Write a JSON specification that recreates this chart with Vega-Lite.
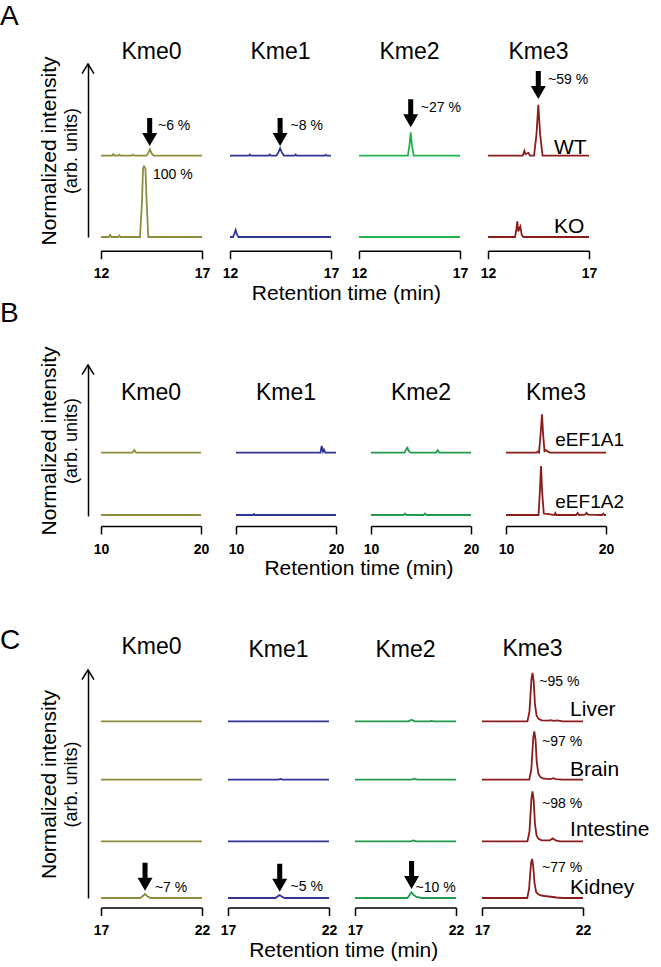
{
"$schema":"https://vega.github.io/schema/vega-lite/v6.json",
"background":"white",
"padding":{"left":0,"top":2,"right":0,"bottom":0},
"config":{
 "font":"Liberation Sans",
 "view":{"stroke":null},
 "axisX":{"domainColor":"black","domainWidth":1.5,"tickColor":"black","tickWidth":1.5,"tickSize":8,"labelFontWeight":"bold","labelFontSize":14,"labelColor":"black","labelFlush":false,"labelOverlap":false,"labelPadding":8,"grid":false},
 "title":{"fontSize":23,"fontWeight":"normal","color":"black","baseline":"alphabetic"},
 "line":{"strokeWidth":1.8}
},
"datasets":{
 "notes":[
  {"id":"A0WT","k":"a","t":14.41,"v":0.137},
  {"id":"A0WT","k":"p","t":14.82,"v":0.42,"lab":"~6 %"},
  {"id":"A0KO","k":"p","t":14.57,"v":0.88,"lab":"100 %"},
  {"id":"A1WT","k":"a","t":14.48,"v":0.137},
  {"id":"A1WT","k":"p","t":15.0,"v":0.42,"lab":"~8 %"},
  {"id":"A2WT","k":"a","t":14.56,"v":0.402},
  {"id":"A2WT","k":"p","t":15.06,"v":0.676,"lab":"~27 %"},
  {"id":"A3WT","k":"a","t":14.49,"v":0.803},
  {"id":"A3WT","k":"p","t":14.97,"v":1.072,"lab":"~59 %"},
  {"id":"A3WT","k":"n","t":15.27,"v":0.024,"lab":"WT"},
  {"id":"A3KO","k":"n","t":15.27,"v":0.06,"lab":"KO"},
  {"id":"B3a1","k":"n","t":14.93,"v":0.135,"lab":"eEF1A1"},
  {"id":"B3a2","k":"n","t":14.93,"v":0.15,"lab":"eEF1A2"},
  {"id":"C0Ki","k":"a","t":19.18,"v":0.146},
  {"id":"C0Ki","k":"p","t":19.67,"v":0.2,"lab":"~7 %"},
  {"id":"C1Ki","k":"a","t":19.56,"v":0.126},
  {"id":"C1Ki","k":"p","t":20.1,"v":0.214,"lab":"~5 %"},
  {"id":"C2Ki","k":"a","t":19.8,"v":0.18},
  {"id":"C2Ki","k":"p","t":20.0,"v":0.2,"lab":"~10 %"},
  {"id":"C3Li","k":"p","t":19.84,"v":0.784,"lab":"~95 %"},
  {"id":"C3Li","k":"n","t":21.36,"v":0.1,"lab":"Liver"},
  {"id":"C3Br","k":"p","t":19.97,"v":0.75,"lab":"~97 %"},
  {"id":"C3Br","k":"n","t":21.36,"v":0.066,"lab":"Brain"},
  {"id":"C3In","k":"p","t":19.97,"v":0.754,"lab":"~98 %"},
  {"id":"C3In","k":"n","t":21.36,"v":0.1,"lab":"Intestine"},
  {"id":"C3Ki","k":"p","t":19.97,"v":0.6,"lab":"~77 %"},
  {"id":"C3Ki","k":"n","t":21.36,"v":0.08,"lab":"Kidney"}
 ],
 "A0WT":[{"t":12,"v":0},{"t":12.55,"v":0},{"t":12.61,"v":0.02},{"t":12.67,"v":0},{"t":12.85,"v":0},{"t":12.91,"v":0.015},{"t":12.97,"v":0},{"t":13.5,"v":0},{"t":13.57,"v":0.012},{"t":13.64,"v":0},{"t":14.26,"v":0},{"t":14.34,"v":0.04},{"t":14.42,"v":0.088},{"t":14.5,"v":0.035},{"t":14.6,"v":0},{"t":17,"v":0}],
 "A0KO":[{"t":12,"v":0},{"t":12.38,"v":0},{"t":12.45,"v":0.03},{"t":12.52,"v":0},{"t":12.85,"v":0},{"t":12.91,"v":0.02},{"t":12.97,"v":0},{"t":13.93,"v":0},{"t":14.03,"v":0.5},{"t":14.08,"v":0.97},{"t":14.13,"v":1.0},{"t":14.2,"v":0.97},{"t":14.26,"v":0.5},{"t":14.34,"v":0},{"t":17,"v":0}],
 "A1WT":[{"t":12,"v":0},{"t":12.93,"v":0},{"t":12.98,"v":0.015},{"t":13.03,"v":0},{"t":13.91,"v":0},{"t":13.96,"v":0.015},{"t":14.01,"v":0},{"t":14.3,"v":0},{"t":14.4,"v":0.05},{"t":14.48,"v":0.105},{"t":14.56,"v":0.05},{"t":14.67,"v":0},{"t":15.2,"v":0},{"t":15.25,"v":0.015},{"t":15.3,"v":0},{"t":16.69,"v":0},{"t":16.74,"v":0.012},{"t":16.79,"v":0},{"t":17,"v":0}],
 "A1KO":[{"t":12,"v":0},{"t":12.15,"v":0},{"t":12.22,"v":0.05},{"t":12.28,"v":0.1},{"t":12.34,"v":0.04},{"t":12.42,"v":0},{"t":17,"v":0}],
 "A2WT":[{"t":12,"v":0},{"t":14.42,"v":0},{"t":14.5,"v":0.15},{"t":14.56,"v":0.33},{"t":14.62,"v":0.15},{"t":14.71,"v":0},{"t":17,"v":0}],
 "A2KO":[{"t":12,"v":0},{"t":17,"v":0}],
 "A3WT":[{"t":12,"v":0},{"t":13.72,"v":0},{"t":13.8,"v":0.07},{"t":13.86,"v":0.02},{"t":13.92,"v":0.03},{"t":14.0,"v":0.04},{"t":14.08,"v":0},{"t":14.28,"v":0},{"t":14.4,"v":0.3},{"t":14.49,"v":0.72},{"t":14.58,"v":0.3},{"t":14.7,"v":0},{"t":17,"v":0}],
 "A3KO":[{"t":12,"v":0},{"t":13.34,"v":0},{"t":13.41,"v":0.12},{"t":13.45,"v":0.22},{"t":13.5,"v":0.08},{"t":13.55,"v":0.12},{"t":13.6,"v":0.15},{"t":13.67,"v":0.03},{"t":13.75,"v":0},{"t":17,"v":0}],
 "B0a1":[{"t":10,"v":0},{"t":13.15,"v":0},{"t":13.33,"v":0.053},{"t":13.5,"v":0},{"t":20,"v":0}],
 "B0a2":[{"t":10,"v":0},{"t":20,"v":0}],
 "B1a1":[{"t":10,"v":0},{"t":18.45,"v":0},{"t":18.57,"v":0.135},{"t":18.7,"v":0.02},{"t":18.8,"v":0.06},{"t":18.92,"v":0},{"t":20,"v":0}],
 "B1a2":[{"t":10,"v":0},{"t":11.7,"v":0},{"t":11.8,"v":0.02},{"t":11.9,"v":0},{"t":20,"v":0}],
 "B2a1":[{"t":10,"v":0},{"t":13.35,"v":0},{"t":13.55,"v":0.08},{"t":13.64,"v":0.1},{"t":13.75,"v":0.04},{"t":13.95,"v":0},{"t":16.5,"v":0},{"t":16.67,"v":0.047},{"t":16.82,"v":0},{"t":20,"v":0}],
 "B2a2":[{"t":10,"v":0},{"t":13.25,"v":0},{"t":13.4,"v":0.03},{"t":13.55,"v":0},{"t":15.25,"v":0},{"t":15.4,"v":0.03},{"t":15.55,"v":0},{"t":20,"v":0}],
 "B3a1":[{"t":10,"v":0},{"t":13.05,"v":0},{"t":13.16,"v":0.02},{"t":13.3,"v":0},{"t":13.45,"v":0.35},{"t":13.6,"v":0.78},{"t":13.72,"v":0.35},{"t":13.85,"v":0.03},{"t":14.0,"v":0.05},{"t":14.2,"v":0.02},{"t":14.4,"v":0},{"t":20,"v":0}],
 "B3a2":[{"t":10,"v":0},{"t":13.25,"v":0},{"t":13.38,"v":0.45},{"t":13.5,"v":1.0},{"t":13.62,"v":0.45},{"t":13.78,"v":0.03},{"t":14.3,"v":0.02},{"t":14.85,"v":0},{"t":14.93,"v":0.04},{"t":15.05,"v":0},{"t":17.0,"v":0},{"t":17.16,"v":0.04},{"t":17.3,"v":0},{"t":17.9,"v":0.01},{"t":18.06,"v":0.045},{"t":18.2,"v":0.01},{"t":19.6,"v":0},{"t":19.73,"v":0.03},{"t":19.85,"v":0},{"t":20,"v":0}],
 "C0Li":[{"t":17,"v":0},{"t":22,"v":0}],
 "C0Br":[{"t":17,"v":0},{"t":22,"v":0}],
 "C0In":[{"t":17,"v":0},{"t":22,"v":0}],
 "C0Ki":[{"t":17,"v":0},{"t":18.95,"v":0},{"t":19.1,"v":0.05},{"t":19.18,"v":0.08},{"t":19.28,"v":0.04},{"t":19.45,"v":0},{"t":22,"v":0}],
 "C1Li":[{"t":17,"v":0},{"t":22,"v":0}],
 "C1Br":[{"t":17,"v":0},{"t":19.5,"v":0},{"t":19.6,"v":0.015},{"t":19.7,"v":0},{"t":22,"v":0}],
 "C1In":[{"t":17,"v":0},{"t":22,"v":0}],
 "C1Ki":[{"t":17,"v":0},{"t":19.35,"v":0},{"t":19.48,"v":0.04},{"t":19.56,"v":0.06},{"t":19.65,"v":0.03},{"t":19.8,"v":0},{"t":22,"v":0}],
 "C2Li":[{"t":17,"v":0},{"t":19.65,"v":0},{"t":19.8,"v":0.034},{"t":19.95,"v":0},{"t":20.7,"v":0},{"t":20.79,"v":0.01},{"t":20.88,"v":0},{"t":22,"v":0}],
 "C2Br":[{"t":17,"v":0},{"t":19.8,"v":0},{"t":19.94,"v":0.02},{"t":20.08,"v":0},{"t":22,"v":0}],
 "C2In":[{"t":17,"v":0},{"t":19.75,"v":0},{"t":19.89,"v":0.02},{"t":20.03,"v":0},{"t":22,"v":0}],
 "C2Ki":[{"t":17,"v":0},{"t":19.6,"v":0},{"t":19.72,"v":0.07},{"t":19.8,"v":0.114},{"t":19.9,"v":0.06},{"t":20.05,"v":0.02},{"t":20.3,"v":0},{"t":22,"v":0}],
 "C3Li":[{"t":17,"v":0},{"t":19.25,"v":0},{"t":19.35,"v":0.2},{"t":19.45,"v":0.85},{"t":19.5,"v":0.968},{"t":19.56,"v":0.8},{"t":19.62,"v":0.35},{"t":19.7,"v":0.12},{"t":19.8,"v":0.05},{"t":19.95,"v":0.02},{"t":20.3,"v":0.015},{"t":20.4,"v":0.025},{"t":20.55,"v":0.01},{"t":20.7,"v":0.02},{"t":20.85,"v":0.01},{"t":21,"v":0},{"t":22,"v":0}],
 "C3Br":[{"t":17,"v":0},{"t":19.34,"v":0},{"t":19.44,"v":0.2},{"t":19.54,"v":0.85},{"t":19.59,"v":0.966},{"t":19.65,"v":0.8},{"t":19.71,"v":0.35},{"t":19.79,"v":0.12},{"t":19.9,"v":0.05},{"t":20.05,"v":0.02},{"t":20.4,"v":0.01},{"t":20.53,"v":0.03},{"t":20.65,"v":0.01},{"t":21,"v":0},{"t":22,"v":0}],
 "C3In":[{"t":17,"v":0},{"t":19.25,"v":0},{"t":19.35,"v":0.2},{"t":19.45,"v":0.87},{"t":19.5,"v":1.0},{"t":19.56,"v":0.82},{"t":19.62,"v":0.36},{"t":19.7,"v":0.12},{"t":19.8,"v":0.05},{"t":19.95,"v":0.02},{"t":20.35,"v":0.02},{"t":20.5,"v":0.06},{"t":20.65,"v":0.02},{"t":20.85,"v":0},{"t":22,"v":0}],
 "C3Ki":[{"t":17,"v":0},{"t":19.24,"v":0},{"t":19.33,"v":0.18},{"t":19.43,"v":0.7},{"t":19.48,"v":0.78},{"t":19.54,"v":0.62},{"t":19.6,"v":0.3},{"t":19.68,"v":0.12},{"t":19.8,"v":0.07},{"t":19.95,"v":0.05},{"t":20.1,"v":0.04},{"t":20.3,"v":0.03},{"t":20.5,"v":0.02},{"t":20.7,"v":0.01},{"t":21,"v":0},{"t":22,"v":0}]
},
"spacing":48,
"align":"none",
"vconcat":[
{"spacing":-5,"align":"none","vconcat":[
{"title":{"text":"A","anchor":"start","fontSize":28,"offset":10,"dx":-38},
 "vconcat":[{"spacing":28,"bounds":"flush",
  "title":{"text":"Retention time (min)","orient":"bottom","anchor":"middle","fontSize":21,"baseline":"top","offset":2,"dx":29},
  "hconcat":[
  {"width":101,"height":173,"title":{"text":"Kme0","offset":-8.5},
   "encoding":{"x":{"field":"t","type":"quantitative","scale":{"domain":[12,17],"nice":false},"title":null,"axis":{"values":[12,17],"offset":13.7}}},
   "resolve":{"scale":{"y":"independent"}},
   "layer":[
    {"encoding":{"y":{"field":"v","type":"quantitative","scale":{"domain":[-1.152,1.298],"nice":false,"zero":false},"axis":null}},
     "layer":[
      {"data":{"name":"A0WT"},"mark":{"type":"line","color":"#8d8d3d"}},
      {"data":{"name":"notes"},"transform":[{"filter":"datum.id=='A0WT'&&datum.k=='a'"}],"mark":{"type":"point","shape":"M-0.36,-4L0.36,-4L0.36,-1.86L1.07,-1.86L0,0L-1.07,-1.86L-0.36,-1.86Z","size":196,"filled":true,"color":"black","opacity":1,"strokeWidth":0}},
      {"data":{"name":"notes"},"transform":[{"filter":"datum.id=='A0WT'&&datum.k=='p'"}],"mark":{"type":"text","align":"left","baseline":"middle","fontSize":14,"color":"black"},"encoding":{"text":{"field":"lab"}}}
     ]},
    {"encoding":{"y":{"field":"v","type":"quantitative","scale":{"domain":[0,2.45],"nice":false,"zero":false},"axis":null}},
     "layer":[
      {"data":{"name":"A0KO"},"mark":{"type":"line","color":"#8d8d3d"}},
      {"data":{"name":"notes"},"transform":[{"filter":"datum.id=='A0KO'&&datum.k=='p'"}],"mark":{"type":"text","align":"left","baseline":"middle","fontSize":14,"color":"black"},"encoding":{"text":{"field":"lab"}}}
     ]},
    {"data":{"values":[{"t":12,"v":1}]},"mark":{"type":"point","shape":"M-1,1.6L0,0L1,1.6","filled":false,"color":"black","strokeWidth":1.5,"size":144,"xOffset":-13,"opacity":1},
     "encoding":{"y":{"field":"v","type":"quantitative","scale":{"domain":[0,1],"nice":false},"title":"(arb. units)","axis":{"orient":"left","offset":13,"domain":true,"domainColor":"black","domainWidth":1.5,"ticks":false,"labels":false,"grid":false,"titleFontSize":18,"titleFontWeight":"normal","titleColor":"black","titlePadding":8}}}},
    {"data":{"values":[{"t":12,"v":1}]},"mark":{"type":"point","opacity":0},
     "encoding":{"y":{"field":"v","type":"quantitative","scale":{"domain":[0,1],"nice":false},"title":"Normalized intensity","axis":{"orient":"left","offset":13,"domain":false,"ticks":false,"labels":false,"grid":false,"titleFontSize":21,"titleFontWeight":"normal","titleColor":"black","titlePadding":29}}}}
   ]},
  {"width":101,"height":173,"title":{"text":"Kme1","offset":0.5},
   "encoding":{"x":{"field":"t","type":"quantitative","scale":{"domain":[12,17],"nice":false},"title":null,"axis":{"values":[12,17],"offset":13.7}}},
   "resolve":{"scale":{"y":"independent"}},
   "layer":[
    {"encoding":{"y":{"field":"v","type":"quantitative","scale":{"domain":[-1.152,1.298],"nice":false,"zero":false},"axis":null}},
     "layer":[
      {"data":{"name":"A1WT"},"mark":{"type":"line","color":"#2f3590"}},
      {"data":{"name":"notes"},"transform":[{"filter":"datum.id=='A1WT'&&datum.k=='a'"}],"mark":{"type":"point","shape":"M-0.36,-4L0.36,-4L0.36,-1.86L1.07,-1.86L0,0L-1.07,-1.86L-0.36,-1.86Z","size":196,"filled":true,"color":"black","opacity":1,"strokeWidth":0}},
      {"data":{"name":"notes"},"transform":[{"filter":"datum.id=='A1WT'&&datum.k=='p'"}],"mark":{"type":"text","align":"left","baseline":"middle","fontSize":14,"color":"black"},"encoding":{"text":{"field":"lab"}}}
     ]},
    {"encoding":{"y":{"field":"v","type":"quantitative","scale":{"domain":[0,2.45],"nice":false,"zero":false},"axis":null}},
     "layer":[
      {"data":{"name":"A1KO"},"mark":{"type":"line","color":"#2f3590"}}
     ]}
   ]},
  {"width":101,"height":173,"title":{"text":"Kme2","offset":0.5},
   "encoding":{"x":{"field":"t","type":"quantitative","scale":{"domain":[12,17],"nice":false},"title":null,"axis":{"values":[12,17],"offset":13.7}}},
   "resolve":{"scale":{"y":"independent"}},
   "layer":[
    {"encoding":{"y":{"field":"v","type":"quantitative","scale":{"domain":[-1.152,1.298],"nice":false,"zero":false},"axis":null}},
     "layer":[
      {"data":{"name":"A2WT"},"mark":{"type":"line","color":"#22b24c"}},
      {"data":{"name":"notes"},"transform":[{"filter":"datum.id=='A2WT'&&datum.k=='a'"}],"mark":{"type":"point","shape":"M-0.36,-4L0.36,-4L0.36,-1.86L1.07,-1.86L0,0L-1.07,-1.86L-0.36,-1.86Z","size":196,"filled":true,"color":"black","opacity":1,"strokeWidth":0}},
      {"data":{"name":"notes"},"transform":[{"filter":"datum.id=='A2WT'&&datum.k=='p'"}],"mark":{"type":"text","align":"left","baseline":"middle","fontSize":14,"color":"black"},"encoding":{"text":{"field":"lab"}}}
     ]},
    {"encoding":{"y":{"field":"v","type":"quantitative","scale":{"domain":[0,2.45],"nice":false,"zero":false},"axis":null}},
     "layer":[
      {"data":{"name":"A2KO"},"mark":{"type":"line","color":"#22b24c"}}
     ]}
   ]},
  {"width":101,"height":173,"title":{"text":"Kme3","offset":0.5},
   "encoding":{"x":{"field":"t","type":"quantitative","scale":{"domain":[12,17],"nice":false},"title":null,"axis":{"values":[12,17],"offset":13.7}}},
   "resolve":{"scale":{"y":"independent"}},
   "layer":[
    {"encoding":{"y":{"field":"v","type":"quantitative","scale":{"domain":[-1.152,1.298],"nice":false,"zero":false},"axis":null}},
     "layer":[
      {"data":{"name":"A3WT"},"mark":{"type":"line","color":"#8b1c1c"}},
      {"data":{"name":"notes"},"transform":[{"filter":"datum.id=='A3WT'&&datum.k=='a'"}],"mark":{"type":"point","shape":"M-0.36,-4L0.36,-4L0.36,-1.86L1.07,-1.86L0,0L-1.07,-1.86L-0.36,-1.86Z","size":196,"filled":true,"color":"black","opacity":1,"strokeWidth":0}},
      {"data":{"name":"notes"},"transform":[{"filter":"datum.id=='A3WT'&&datum.k=='p'"}],"mark":{"type":"text","align":"left","baseline":"middle","fontSize":14,"color":"black"},"encoding":{"text":{"field":"lab"}}},
      {"data":{"name":"notes"},"transform":[{"filter":"datum.id=='A3WT'&&datum.k=='n'"}],"mark":{"type":"text","align":"left","baseline":"alphabetic","fontSize":21,"color":"black"},"encoding":{"text":{"field":"lab"}}}
     ]},
    {"encoding":{"y":{"field":"v","type":"quantitative","scale":{"domain":[0,2.45],"nice":false,"zero":false},"axis":null}},
     "layer":[
      {"data":{"name":"A3KO"},"mark":{"type":"line","color":"#8b1c1c"}},
      {"data":{"name":"notes"},"transform":[{"filter":"datum.id=='A3KO'&&datum.k=='n'"}],"mark":{"type":"text","align":"left","baseline":"alphabetic","fontSize":21,"color":"black"},"encoding":{"text":{"field":"lab"}}}
     ]}
   ]}
  ]}]},
{"title":{"text":"B","anchor":"start","fontSize":28,"offset":18,"dx":-38},
 "vconcat":[{"spacing":35,"bounds":"flush",
  "title":{"text":"Retention time (min)","orient":"bottom","anchor":"middle","fontSize":21,"baseline":"top","offset":2,"dx":28},
  "hconcat":[
  {"width":100,"height":151,"title":{"text":"Kme0","offset":-59},
   "encoding":{"x":{"field":"t","type":"quantitative","scale":{"domain":[10,20],"nice":false},"title":null,"axis":{"values":[10,20],"offset":10}}},
   "resolve":{"scale":{"y":"independent"}},
   "layer":[
    {"encoding":{"y":{"field":"v","type":"quantitative","scale":{"domain":[-1.294,1.788],"nice":false,"zero":false},"axis":null}},
     "layer":[{"data":{"name":"B0a1"},"mark":{"type":"line","color":"#8d8d3d"}}]},
    {"encoding":{"y":{"field":"v","type":"quantitative","scale":{"domain":[-0.02,3.06],"nice":false,"zero":false},"axis":null}},
     "layer":[{"data":{"name":"B0a2"},"mark":{"type":"line","color":"#8d8d3d"}}]},
    {"data":{"values":[{"t":10,"v":1}]},"mark":{"type":"point","shape":"M-1,1.6L0,0L1,1.6","filled":false,"color":"black","strokeWidth":1.5,"size":144,"xOffset":-13,"opacity":1},
     "encoding":{"y":{"field":"v","type":"quantitative","scale":{"domain":[0,1],"nice":false},"title":"(arb. units)","axis":{"orient":"left","offset":13,"domain":true,"domainColor":"black","domainWidth":1.5,"ticks":false,"labels":false,"grid":false,"titleFontSize":18,"titleFontWeight":"normal","titleColor":"black","titlePadding":8}}}},
    {"data":{"values":[{"t":10,"v":1}]},"mark":{"type":"point","opacity":0},
     "encoding":{"y":{"field":"v","type":"quantitative","scale":{"domain":[0,1],"nice":false},"title":"Normalized intensity","axis":{"orient":"left","offset":13,"domain":false,"ticks":false,"labels":false,"grid":false,"titleFontSize":21,"titleFontWeight":"normal","titleColor":"black","titlePadding":29}}}}
   ]},
  {"width":100,"height":151,"title":{"text":"Kme1","offset":-39.5},
   "encoding":{"x":{"field":"t","type":"quantitative","scale":{"domain":[10,20],"nice":false},"title":null,"axis":{"values":[10,20],"offset":10}}},
   "resolve":{"scale":{"y":"independent"}},
   "layer":[
    {"encoding":{"y":{"field":"v","type":"quantitative","scale":{"domain":[-1.294,1.788],"nice":false,"zero":false},"axis":null}},
     "layer":[{"data":{"name":"B1a1"},"mark":{"type":"line","color":"#2f3590"}}]},
    {"encoding":{"y":{"field":"v","type":"quantitative","scale":{"domain":[-0.02,3.06],"nice":false,"zero":false},"axis":null}},
     "layer":[{"data":{"name":"B1a2"},"mark":{"type":"line","color":"#2f3590"}}]}
   ]},
  {"width":100,"height":151,"title":{"text":"Kme2","offset":-39.5},
   "encoding":{"x":{"field":"t","type":"quantitative","scale":{"domain":[10,20],"nice":false},"title":null,"axis":{"values":[10,20],"offset":10}}},
   "resolve":{"scale":{"y":"independent"}},
   "layer":[
    {"encoding":{"y":{"field":"v","type":"quantitative","scale":{"domain":[-1.294,1.788],"nice":false,"zero":false},"axis":null}},
     "layer":[{"data":{"name":"B2a1"},"mark":{"type":"line","color":"#229a4e"}}]},
    {"encoding":{"y":{"field":"v","type":"quantitative","scale":{"domain":[-0.02,3.06],"nice":false,"zero":false},"axis":null}},
     "layer":[{"data":{"name":"B2a2"},"mark":{"type":"line","color":"#229a4e"}}]}
   ]},
  {"width":100,"height":151,"title":{"text":"Kme3","offset":-39.5},
   "encoding":{"x":{"field":"t","type":"quantitative","scale":{"domain":[10,20],"nice":false},"title":null,"axis":{"values":[10,20],"offset":10}}},
   "resolve":{"scale":{"y":"independent"}},
   "layer":[
    {"encoding":{"y":{"field":"v","type":"quantitative","scale":{"domain":[-1.294,1.788],"nice":false,"zero":false},"axis":null}},
     "layer":[
      {"data":{"name":"B3a1"},"mark":{"type":"line","color":"#8b1c1c"}},
      {"data":{"name":"notes"},"transform":[{"filter":"datum.id=='B3a1'&&datum.k=='n'"}],"mark":{"type":"text","align":"left","baseline":"alphabetic","fontSize":19,"color":"black"},"encoding":{"text":{"field":"lab"}}}
     ]},
    {"encoding":{"y":{"field":"v","type":"quantitative","scale":{"domain":[-0.02,3.06],"nice":false,"zero":false},"axis":null}},
     "layer":[
      {"data":{"name":"B3a2"},"mark":{"type":"line","color":"#8b1c1c"}},
      {"data":{"name":"notes"},"transform":[{"filter":"datum.id=='B3a2'&&datum.k=='n'"}],"mark":{"type":"text","align":"left","baseline":"alphabetic","fontSize":19,"color":"black"},"encoding":{"text":{"field":"lab"}}}
     ]}
   ]}
  ]}]}
]},
{"title":{"text":"C","anchor":"start","fontSize":28,"offset":-19.5,"dx":-38},
 "vconcat":[{"spacing":26,"bounds":"flush",
  "title":{"text":"Retention time (min)","orient":"bottom","anchor":"middle","fontSize":21,"baseline":"top","offset":2,"dx":0},
  "hconcat":[
  {"width":101,"height":228,"title":{"text":"Kme0","offset":8.2},
   "encoding":{"x":{"field":"t","type":"quantitative","scale":{"domain":[17,22],"nice":false},"title":null,"axis":{"values":[17,22],"offset":9.5}}},
   "resolve":{"scale":{"y":"independent"}},
   "layer":[
    {"encoding":{"y":{"field":"v","type":"quantitative","scale":{"domain":[-3.532,1.028],"nice":false,"zero":false},"axis":null}},
     "layer":[{"data":{"name":"C0Li"},"mark":{"type":"line","color":"#8d8d3d"}}]},
    {"encoding":{"y":{"field":"v","type":"quantitative","scale":{"domain":[-2.366,2.194],"nice":false,"zero":false},"axis":null}},
     "layer":[{"data":{"name":"C0Br"},"mark":{"type":"line","color":"#8d8d3d"}}]},
    {"encoding":{"y":{"field":"v","type":"quantitative","scale":{"domain":[-1.132,3.428],"nice":false,"zero":false},"axis":null}},
     "layer":[{"data":{"name":"C0In"},"mark":{"type":"line","color":"#8d8d3d"}}]},
    {"encoding":{"y":{"field":"v","type":"quantitative","scale":{"domain":[0,4.56],"nice":false,"zero":false},"axis":null}},
     "layer":[
      {"data":{"name":"C0Ki"},"mark":{"type":"line","color":"#8d8d3d"}},
      {"data":{"name":"notes"},"transform":[{"filter":"datum.id=='C0Ki'&&datum.k=='a'"}],"mark":{"type":"point","shape":"M-0.36,-4L0.36,-4L0.36,-1.86L1.07,-1.86L0,0L-1.07,-1.86L-0.36,-1.86Z","size":196,"filled":true,"color":"black","opacity":1,"strokeWidth":0}},
      {"data":{"name":"notes"},"transform":[{"filter":"datum.id=='C0Ki'&&datum.k=='p'"}],"mark":{"type":"text","align":"left","baseline":"middle","fontSize":14,"color":"black"},"encoding":{"text":{"field":"lab"}}}
     ]},
    {"data":{"values":[{"t":17,"v":1}]},"mark":{"type":"point","shape":"M-1,1.6L0,0L1,1.6","filled":false,"color":"black","strokeWidth":1.5,"size":144,"xOffset":-13,"opacity":1},
     "encoding":{"y":{"field":"v","type":"quantitative","scale":{"domain":[0,1],"nice":false},"title":"(arb. units)","axis":{"orient":"left","offset":13,"domain":true,"domainColor":"black","domainWidth":1.5,"ticks":false,"labels":false,"grid":false,"titleFontSize":18,"titleFontWeight":"normal","titleColor":"black","titlePadding":8}}}},
    {"data":{"values":[{"t":17,"v":1}]},"mark":{"type":"point","opacity":0},
     "encoding":{"y":{"field":"v","type":"quantitative","scale":{"domain":[0,1],"nice":false},"title":"Normalized intensity","axis":{"orient":"left","offset":13,"domain":false,"ticks":false,"labels":false,"grid":false,"titleFontSize":21,"titleFontWeight":"normal","titleColor":"black","titlePadding":29}}}}
   ]},
  {"width":101,"height":228,"title":{"text":"Kme1","offset":8.2},
   "encoding":{"x":{"field":"t","type":"quantitative","scale":{"domain":[17,22],"nice":false},"title":null,"axis":{"values":[17,22],"offset":9.5}}},
   "resolve":{"scale":{"y":"independent"}},
   "layer":[
    {"encoding":{"y":{"field":"v","type":"quantitative","scale":{"domain":[-3.532,1.028],"nice":false,"zero":false},"axis":null}},
     "layer":[{"data":{"name":"C1Li"},"mark":{"type":"line","color":"#2f3590"}}]},
    {"encoding":{"y":{"field":"v","type":"quantitative","scale":{"domain":[-2.366,2.194],"nice":false,"zero":false},"axis":null}},
     "layer":[{"data":{"name":"C1Br"},"mark":{"type":"line","color":"#2f3590"}}]},
    {"encoding":{"y":{"field":"v","type":"quantitative","scale":{"domain":[-1.132,3.428],"nice":false,"zero":false},"axis":null}},
     "layer":[{"data":{"name":"C1In"},"mark":{"type":"line","color":"#2f3590"}}]},
    {"encoding":{"y":{"field":"v","type":"quantitative","scale":{"domain":[0,4.56],"nice":false,"zero":false},"axis":null}},
     "layer":[
      {"data":{"name":"C1Ki"},"mark":{"type":"line","color":"#2f3590"}},
      {"data":{"name":"notes"},"transform":[{"filter":"datum.id=='C1Ki'&&datum.k=='a'"}],"mark":{"type":"point","shape":"M-0.36,-4L0.36,-4L0.36,-1.86L1.07,-1.86L0,0L-1.07,-1.86L-0.36,-1.86Z","size":196,"filled":true,"color":"black","opacity":1,"strokeWidth":0}},
      {"data":{"name":"notes"},"transform":[{"filter":"datum.id=='C1Ki'&&datum.k=='p'"}],"mark":{"type":"text","align":"left","baseline":"middle","fontSize":14,"color":"black"},"encoding":{"text":{"field":"lab"}}}
     ]}
   ]},
  {"width":101,"height":228,"title":{"text":"Kme2","offset":8.2},
   "encoding":{"x":{"field":"t","type":"quantitative","scale":{"domain":[17,22],"nice":false},"title":null,"axis":{"values":[17,22],"offset":9.5}}},
   "resolve":{"scale":{"y":"independent"}},
   "layer":[
    {"encoding":{"y":{"field":"v","type":"quantitative","scale":{"domain":[-3.532,1.028],"nice":false,"zero":false},"axis":null}},
     "layer":[{"data":{"name":"C2Li"},"mark":{"type":"line","color":"#229a4e"}}]},
    {"encoding":{"y":{"field":"v","type":"quantitative","scale":{"domain":[-2.366,2.194],"nice":false,"zero":false},"axis":null}},
     "layer":[{"data":{"name":"C2Br"},"mark":{"type":"line","color":"#229a4e"}}]},
    {"encoding":{"y":{"field":"v","type":"quantitative","scale":{"domain":[-1.132,3.428],"nice":false,"zero":false},"axis":null}},
     "layer":[{"data":{"name":"C2In"},"mark":{"type":"line","color":"#229a4e"}}]},
    {"encoding":{"y":{"field":"v","type":"quantitative","scale":{"domain":[0,4.56],"nice":false,"zero":false},"axis":null}},
     "layer":[
      {"data":{"name":"C2Ki"},"mark":{"type":"line","color":"#229a4e"}},
      {"data":{"name":"notes"},"transform":[{"filter":"datum.id=='C2Ki'&&datum.k=='a'"}],"mark":{"type":"point","shape":"M-0.36,-4L0.36,-4L0.36,-1.86L1.07,-1.86L0,0L-1.07,-1.86L-0.36,-1.86Z","size":196,"filled":true,"color":"black","opacity":1,"strokeWidth":0}},
      {"data":{"name":"notes"},"transform":[{"filter":"datum.id=='C2Ki'&&datum.k=='p'"}],"mark":{"type":"text","align":"left","baseline":"middle","fontSize":14,"color":"black"},"encoding":{"text":{"field":"lab"}}}
     ]}
   ]},
  {"width":101,"height":228,"title":{"text":"Kme3","offset":8.2},
   "encoding":{"x":{"field":"t","type":"quantitative","scale":{"domain":[17,22],"nice":false},"title":null,"axis":{"values":[17,22],"offset":9.5}}},
   "resolve":{"scale":{"y":"independent"}},
   "layer":[
    {"encoding":{"y":{"field":"v","type":"quantitative","scale":{"domain":[-3.532,1.028],"nice":false,"zero":false},"axis":null}},
     "layer":[
      {"data":{"name":"C3Li"},"mark":{"type":"line","color":"#8b1c1c"}},
      {"data":{"name":"notes"},"transform":[{"filter":"datum.id=='C3Li'&&datum.k=='p'"}],"mark":{"type":"text","align":"left","baseline":"middle","fontSize":14,"color":"black"},"encoding":{"text":{"field":"lab"}}},
      {"data":{"name":"notes"},"transform":[{"filter":"datum.id=='C3Li'&&datum.k=='n'"}],"mark":{"type":"text","align":"left","baseline":"alphabetic","fontSize":21,"color":"black"},"encoding":{"text":{"field":"lab"}}}
     ]},
    {"encoding":{"y":{"field":"v","type":"quantitative","scale":{"domain":[-2.366,2.194],"nice":false,"zero":false},"axis":null}},
     "layer":[
      {"data":{"name":"C3Br"},"mark":{"type":"line","color":"#8b1c1c"}},
      {"data":{"name":"notes"},"transform":[{"filter":"datum.id=='C3Br'&&datum.k=='p'"}],"mark":{"type":"text","align":"left","baseline":"middle","fontSize":14,"color":"black"},"encoding":{"text":{"field":"lab"}}},
      {"data":{"name":"notes"},"transform":[{"filter":"datum.id=='C3Br'&&datum.k=='n'"}],"mark":{"type":"text","align":"left","baseline":"alphabetic","fontSize":21,"color":"black"},"encoding":{"text":{"field":"lab"}}}
     ]},
    {"encoding":{"y":{"field":"v","type":"quantitative","scale":{"domain":[-1.132,3.428],"nice":false,"zero":false},"axis":null}},
     "layer":[
      {"data":{"name":"C3In"},"mark":{"type":"line","color":"#8b1c1c"}},
      {"data":{"name":"notes"},"transform":[{"filter":"datum.id=='C3In'&&datum.k=='p'"}],"mark":{"type":"text","align":"left","baseline":"middle","fontSize":14,"color":"black"},"encoding":{"text":{"field":"lab"}}},
      {"data":{"name":"notes"},"transform":[{"filter":"datum.id=='C3In'&&datum.k=='n'"}],"mark":{"type":"text","align":"left","baseline":"alphabetic","fontSize":21,"color":"black"},"encoding":{"text":{"field":"lab"}}}
     ]},
    {"encoding":{"y":{"field":"v","type":"quantitative","scale":{"domain":[0,4.56],"nice":false,"zero":false},"axis":null}},
     "layer":[
      {"data":{"name":"C3Ki"},"mark":{"type":"line","color":"#8b1c1c"}},
      {"data":{"name":"notes"},"transform":[{"filter":"datum.id=='C3Ki'&&datum.k=='p'"}],"mark":{"type":"text","align":"left","baseline":"middle","fontSize":14,"color":"black"},"encoding":{"text":{"field":"lab"}}},
      {"data":{"name":"notes"},"transform":[{"filter":"datum.id=='C3Ki'&&datum.k=='n'"}],"mark":{"type":"text","align":"left","baseline":"alphabetic","fontSize":21,"color":"black"},"encoding":{"text":{"field":"lab"}}}
     ]}
   ]}
  ]}]}
]
}
